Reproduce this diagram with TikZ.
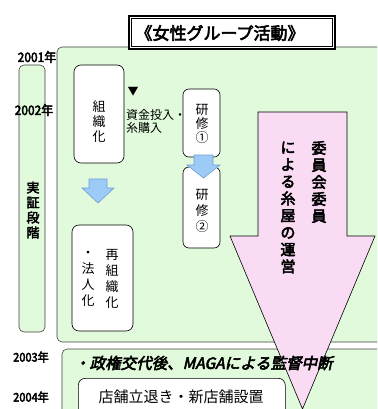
\documentclass[tikz,border=0pt]{standalone}
\usepackage{fontspec}
\newfontfamily\jp{Noto Sans CJK JP}
\newfontfamily\jpb[FakeBold=3.5]{Noto Sans CJK JP}
\newfontfamily\jpbi[FakeBold=3.5,FakeSlant=0.22]{Noto Sans CJK JP}
\definecolor{greenbg}{HTML}{E0FADB}
\definecolor{pinkbg}{HTML}{F9DCF3}
\definecolor{bluefill}{HTML}{9CCBF8}
\definecolor{blueline}{HTML}{6E9ED6}
\begin{document}
\begin{tikzpicture}[x=1pt,y=-1pt,
  panel/.style={draw=black!75, fill=greenbg, rounded corners=5pt, line width=0.6pt},
  wbox/.style={draw=black, fill=white, rounded corners=7pt, line width=0.6pt, inner sep=0pt},
  vtxt/.style={font=\jp\fontsize{13}{15}\selectfont, align=center, inner sep=0pt},
  yr/.style={font=\jpb\fontsize{13}{13}\selectfont, inner sep=0pt, xscale=0.92},
  barrow/.style={draw=blueline, fill=bluefill, line width=0.6pt, line join=miter},
  parrow/.style={draw=black, fill=pinkbg, line width=0.6pt, line join=miter}]
\useasboundingbox (0,0) rectangle (377,409);
\clip (0,0) rectangle (377,409);
\fill[white] (0,0) rectangle (377,409);
% main panel
\draw[panel] (57,47) rectangle (390,342);
% left column
\draw[panel] (19,65) rectangle (45,332);
\node[vtxt, font=\jpb\fontsize{13}{15}\selectfont] (stage) at (33,210) {実\\証\\段\\階};
% title
\node[fill=white, draw, line width=2.2pt, minimum width=206pt, minimum height=33pt, inner sep=0pt] (title) at (232,32.5) {};
\draw[line width=0.8pt] ([shift={(3.5,3.5)}]title.north west) rectangle ([shift={(-3.5,-3.5)}]title.south east);
\node[font=\jpb\fontsize{17}{17}\selectfont, inner sep=0pt] (titletext) at (220,33) {《女性グループ活動》};
% years
\node[yr] (y2001) at (37,57) {2001年};
\node[yr] (y2002) at (34,110) {2002年};
\node[yr, font=\jpb\fontsize{12}{12}\selectfont] (y2003) at (31,357) {2003年};
\node[yr, font=\jpb\fontsize{12}{12}\selectfont] (y2004) at (31,397) {2004年};
% boxes
\node[wbox, minimum width=50pt, minimum height=98pt] (org) at (99,114) {};
\node[vtxt] (orgtext) at (99,122) {組\\織\\化};
\node[wbox, minimum width=61pt, minimum height=106pt] (reorg) at (102.5,278) {};
\node[vtxt, font=\jp\fontsize{13}{16}\selectfont] (reorgA) at (112,279) {再\\組\\織\\化};
\node[vtxt, font=\jp\fontsize{13}{16}\selectfont] (reorgB) at (88,279) {・\\法\\人\\化};
\node[wbox, minimum width=37pt, minimum height=68pt, rounded corners=6pt] (k1) at (201.5,123) {};
\node[vtxt, font=\jp\fontsize{13}{14}\selectfont] (k1text) at (202,124) {研\\修\\①};
\node[wbox, minimum width=37pt, minimum height=81pt, rounded corners=6pt] (k2) at (201.5,207.5) {};
\node[vtxt, font=\jp\fontsize{13}{16}\selectfont] (k2text) at (202,211) {研\\修\\②};
% label
\node[font=\jp\fontsize{11}{11}\selectfont, inner sep=0pt] (tri) at (133,92) {▼};
\node[font=\jp\fontsize{12}{13}\selectfont, align=left, inner sep=0pt, anchor=west] (money) at (126,121) {資金投入・\\糸購入};
% blue arrows
\draw[barrow] (89,179) -- (107,179) -- (107,188) -- (114,188) -- (98,203) -- (82,188) -- (89,188) -- cycle;
\draw[barrow] (194,155) -- (213,155) -- (213,165) -- (220,165) -- (203.5,178) -- (187,165) -- (194,165) -- cycle;
% bottom panel
\draw[panel] (62,349) rectangle (390,430);
\node[wbox, minimum width=207pt, minimum height=50pt, anchor=north west] (shop) at (78,378) {};
\node[font=\jp\fontsize{15}{15}\selectfont, inner sep=0pt] (shoptext) at (181,397) {店舗立退き・新店舗設置};
% pink arrow
\draw[parrow] (258,112) -- (347,112) -- (347,236) -- (375,236) -- (302.5,409) -- (230,236) -- (258,236) -- cycle;
\node[vtxt, font=\jpb\fontsize{15}{17}\selectfont] (pinkA) at (319,182) {委\\員\\会\\委\\員};
\node[vtxt, font=\jpb\fontsize{15}{17}\selectfont] (pinkB) at (288,207.5) {に\\よ\\る\\糸\\屋\\の\\運\\営};
% italic note
\node[font=\jpbi\fontsize{15.5}{15.5}\selectfont, inner sep=0pt, anchor=west] (note) at (74,363) {・政権交代後、MAGAによる監督中断};
\end{tikzpicture}
\end{document}
